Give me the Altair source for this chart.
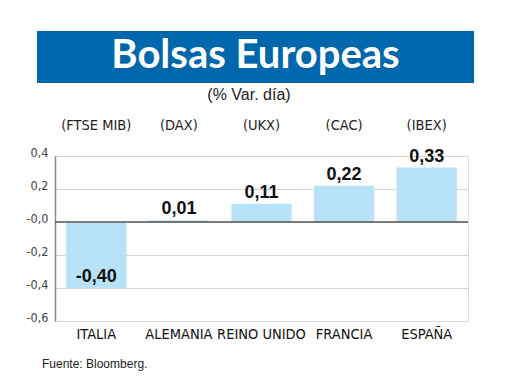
import altair as alt
import pandas as pd

countries = ["ITALIA", "ALEMANIA", "REINO UNIDO", "FRANCIA", "ESPAÑA"]
tickers = ["(FTSE MIB)", "(DAX)", "(UKX)", "(CAC)", "(IBEX)"]
values = [-0.40, 0.01, 0.11, 0.22, 0.33]
y_ticks = [-0.6, -0.4, -0.2, 0, 0.2, 0.4]

df = pd.DataFrame({
    "pais": countries,
    "indice": tickers,
    "valor": values,
    "etiqueta": [f"{v:.2f}".replace(".", ",") for v in values],
})

NARROW = "Liberation Sans Narrow, DejaVu Sans Condensed, Arial Narrow, sans-serif"
SANS = "Liberation Sans, Arial, sans-serif"

x_enc = alt.X("pais:N", sort=countries,
              scale=alt.Scale(paddingInner=0.27, paddingOuter=0.135),
              axis=alt.Axis(title=None, orient="bottom", domain=False, ticks=False,
                            labelAngle=0, labelFont=NARROW, labelFontSize=14.5,
                            labelColor="#111", labelPadding=6, grid=False,
                            labelOverlap=False))
y_scale = alt.Scale(domain=[-0.6, 0.4], nice=False, zero=False)

base = alt.Chart(df)

bars = base.mark_bar(color="#B8E2F8").encode(
    x=x_enc,
    y=alt.Y("valor:Q", scale=y_scale,
            axis=alt.Axis(title=None, values=y_ticks, tickCount=20,
                          labelExpr="datum.value == 0 ? '-0,0' : replace(replace(format(datum.value, '.1f'), '.', ','), '\u2212', '-')",
                          labelFont=NARROW, labelFontSize=12.5, labelColor="#444",
                          labelBaseline="alphabetic", labelPadding=7, labelOverlap=False,
                          labelFlush=False,
                          ticks=False, domain=True, domainColor="#888", domainWidth=1.5,
                          grid=True, gridColor="#d6d6d6", gridWidth=1)),
)

zero = alt.Chart(pd.DataFrame({"z": [0]})).mark_rule(color="#555", strokeWidth=1.5).encode(y=alt.Y("z:Q", scale=y_scale))

labels = base.mark_text(font=SANS, fontSize=18, fontWeight="bold", baseline="alphabetic",
                        dy=-6, color="#111").encode(
    x=alt.X("pais:N", sort=countries), y=alt.Y("valor:Q", scale=y_scale), text="etiqueta:N")

ticker_txt = base.mark_text(font=NARROW, fontSize=14.5, baseline="middle", color="#222").encode(
    x=alt.X("pais:N", sort=countries), y=alt.value(-30), text="indice:N")

header = alt.Chart(pd.DataFrame({"t": ["Bolsas Europeas"]}))
box = header.mark_rect(color="#0067AC").encode(
    x=alt.value(-18), x2=alt.value(419), y=alt.value(-125), y2=alt.value(-73))
title = header.mark_text(font="Lato", fontSize=40, fontWeight="bold", color="white",
                         baseline="alphabetic", align="center").encode(
    x=alt.value(200.5), y=alt.value(-88), text="t:N")
sub = alt.Chart(pd.DataFrame({"t": ["(% Var. día)"]})).mark_text(
    font=SANS, fontSize=16, color="#222", baseline="alphabetic", align="center").encode(
    x=alt.value(194), y=alt.value(-56), text="t:N")
foot = alt.Chart(pd.DataFrame({"t": ["Fuente: Bloomberg."]})).mark_text(
    font=SANS, fontSize=12, color="#222", baseline="alphabetic", align="left").encode(
    x=alt.value(-13), y=alt.value(212), text="t:N")

chart = alt.layer(bars, zero, labels, ticker_txt, box, title, sub, foot).properties(
    width=413, height=165,
    autosize=alt.AutoSizeParams(type="none"),
    padding={"left": 47, "top": 148, "right": 44, "bottom": 61},
).configure_view(stroke=None).configure(background="white")

chart.save("out.html", embed_options={"renderer": "svg", "actions": False})
